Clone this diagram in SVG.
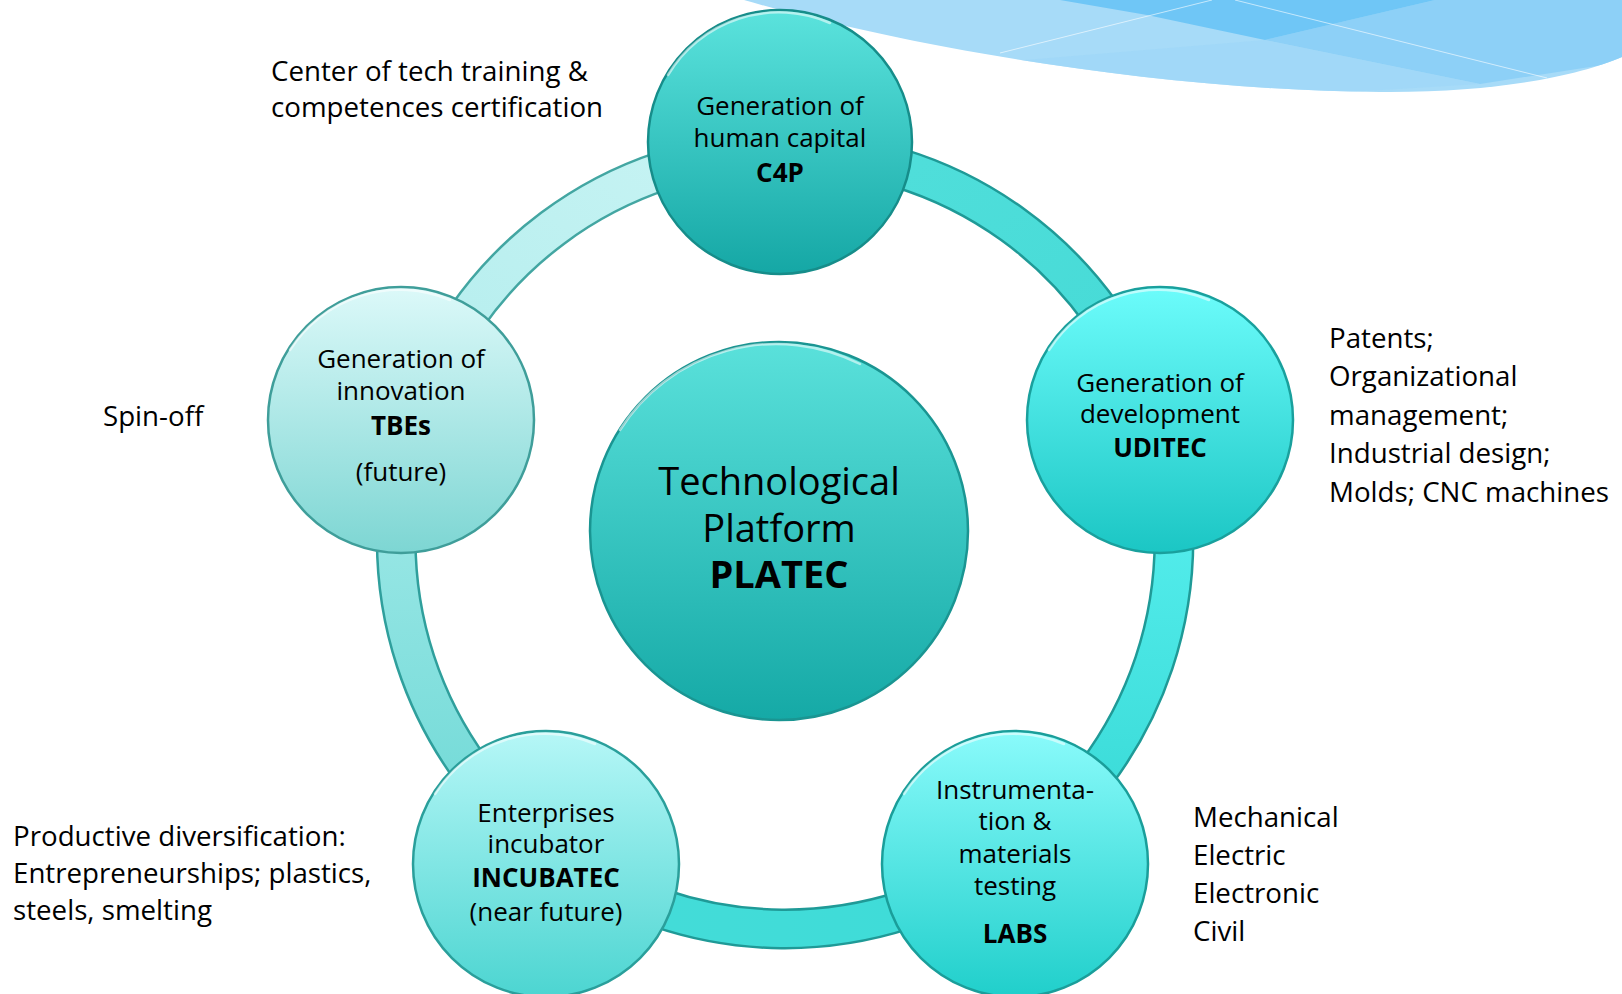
<svg xmlns="http://www.w3.org/2000/svg" width="1622" height="994" viewBox="0 0 1622 994">
<style>
  .t { font-family: "Open Sans", "Noto Sans", "Liberation Sans", sans-serif; fill: #000; }
  .lbl { font-size: 27.7px; }
  .nd { font-size: 26px; text-anchor: middle; }
  .b { font-weight: bold; }
  .big { font-size: 38px; text-anchor: middle; }
  .rim { stroke-width: 2.5; }
  .hl { fill: none; stroke: #ffffff; stroke-opacity: 0.55; stroke-width: 2.5; stroke-linecap: round; }
  .segO { fill: none; stroke-width: 41; }
  .segI { fill: none; stroke-width: 36; }
</style>
<defs>
  <linearGradient id="gC4P" x1="0" y1="0" x2="0" y2="1"><stop offset="0" stop-color="#5be3dd"/><stop offset="1" stop-color="#15a7a5"/></linearGradient>
  <linearGradient id="gPLA" x1="0" y1="0" x2="0" y2="1"><stop offset="0" stop-color="#5ae1db"/><stop offset="1" stop-color="#15a9a6"/></linearGradient>
  <linearGradient id="gTBE" x1="0" y1="0" x2="0" y2="1"><stop offset="0" stop-color="#dcf9f9"/><stop offset="1" stop-color="#7dd6d3"/></linearGradient>
  <linearGradient id="gUDI" x1="0" y1="0" x2="0" y2="1"><stop offset="0" stop-color="#6cfcfb"/><stop offset="1" stop-color="#1bc6c4"/></linearGradient>
  <linearGradient id="gINC" x1="0" y1="0" x2="0" y2="1"><stop offset="0" stop-color="#b6f7f7"/><stop offset="1" stop-color="#4cd5d1"/></linearGradient>
  <linearGradient id="gLAB" x1="0" y1="0" x2="0" y2="1"><stop offset="0" stop-color="#8afbfb"/><stop offset="1" stop-color="#20cfcb"/></linearGradient>
  <linearGradient id="sTL" x1="0" y1="1" x2="1" y2="0"><stop offset="0" stop-color="#b2eded"/><stop offset="1" stop-color="#c9f4f4"/></linearGradient>
  <linearGradient id="sTR" x1="0" y1="0" x2="1" y2="1"><stop offset="0" stop-color="#52dfdb"/><stop offset="1" stop-color="#44dad6"/></linearGradient>
  <linearGradient id="sR" x1="0" y1="0" x2="0" y2="1"><stop offset="0" stop-color="#5cf3f3"/><stop offset="1" stop-color="#36d8d4"/></linearGradient>
  <linearGradient id="sB" x1="0" y1="0" x2="1" y2="0"><stop offset="0" stop-color="#45dcd8"/><stop offset="1" stop-color="#3ddcd8"/></linearGradient>
  <linearGradient id="sL" x1="0" y1="0" x2="0" y2="1"><stop offset="0" stop-color="#a6ebea"/><stop offset="1" stop-color="#6cd8d5"/></linearGradient>
  <clipPath id="wave"><path d="M744,0 C900,45 1150,90 1380,92 C1500,93 1580,75 1622,57 L1622,0 Z"/></clipPath>
</defs>

<rect x="0" y="0" width="1622" height="994" fill="#ffffff"/>

<g id="decoration">
  <path d="M744,0 C900,45 1150,90 1380,92 C1500,93 1580,75 1622,57 L1622,0 Z" fill="#a7dbf8"/>
  <g clip-path="url(#wave)">
    <polygon points="1265,40 1435,0 1622,0 1622,62 1480,84" fill="#8dd0f7"/>
    <polygon points="1060,0 1147,15 1265,40 1435,0" fill="#6fc6f6"/>
    <polygon points="1000,62 1265,40 1480,84 1300,95" fill="#9ed7f8" opacity="0.7"/>
    <line x1="1000" y1="53" x2="1212" y2="0" stroke="#ffffff" stroke-opacity="0.6" stroke-width="1"/>
    <line x1="1235" y1="0" x2="1547" y2="78" stroke="#ffffff" stroke-opacity="0.6" stroke-width="1"/>
  </g>
</g>

<g id="connectors">
  <path class="segO" stroke="#43a6a2" d="M413.9,424.3 A389,389 0 0 1 780,151"/>
  <path class="segI" stroke="url(#sTL)" d="M413.9,424.3 A389,389 0 0 1 780,151"/>
  <path class="segO" stroke="#1f9a97" d="M780,151 A389,389 0 0 1 1155.6,421.7"/>
  <path class="segI" stroke="url(#sTR)" d="M780,151 A389,389 0 0 1 1155.6,421.7"/>
  <path class="segO" stroke="#1f9a97" d="M1155.6,421.7 A389,389 0 0 1 1010.2,857"/>
  <path class="segI" stroke="url(#sR)" d="M1155.6,421.7 A389,389 0 0 1 1010.2,857"/>
  <path class="segO" stroke="#1f9a97" d="M1010.2,857 A389,389 0 0 1 554,853"/>
  <path class="segI" stroke="url(#sB)" d="M1010.2,857 A389,389 0 0 1 554,853"/>
  <path class="segO" stroke="#2f9f9c" d="M554,853 A389,389 0 0 1 413.9,424.3"/>
  <path class="segI" stroke="url(#sL)" d="M554,853 A389,389 0 0 1 413.9,424.3"/>
</g>

<g id="node-platec">
  <circle class="rim" cx="779" cy="531" r="189" fill="url(#gPLA)" stroke="#1a9592"/>
  <path class="hl" d="M620,430 A185,185 0 0 1 860,364"/>
  <text class="t big" x="779" y="495">Technological</text>
  <text class="t big" x="779" y="542">Platform</text>
  <text class="t big b" x="779" y="588">PLATEC</text>
</g>

<g id="node-c4p">
  <circle class="rim" cx="780" cy="142" r="132" fill="url(#gC4P)" stroke="#168d8a"/>
  <path class="hl" d="M668,75 A129,129 0 0 1 830,23"/>
  <text class="t nd" x="780" y="115">Generation of</text>
  <text class="t nd" x="780" y="147">human capital</text>
  <text class="t nd b" x="780" y="182">C4P</text>
</g>

<g id="node-tbes">
  <circle class="rim" cx="401" cy="420" r="133" fill="url(#gTBE)" stroke="#3f9e9a"/>
  <path class="hl" d="M290,350 A130,130 0 0 1 450,300"/>
  <text class="t nd" x="401" y="368">Generation of</text>
  <text class="t nd" x="401" y="400">innovation</text>
  <text class="t nd b" x="401" y="435">TBEs</text>
  <text class="t nd" x="401" y="481">(future)</text>
</g>

<g id="node-uditec">
  <circle class="rim" cx="1160" cy="420" r="133" fill="url(#gUDI)" stroke="#19a09d"/>
  <path class="hl" d="M1049,350 A130,130 0 0 1 1209,300"/>
  <text class="t nd" x="1160" y="392">Generation of</text>
  <text class="t nd" x="1160" y="423">development</text>
  <text class="t nd b" x="1160" y="457">UDITEC</text>
</g>

<g id="node-incubatec">
  <circle class="rim" cx="546" cy="864" r="133" fill="url(#gINC)" stroke="#2a9f9b"/>
  <path class="hl" d="M435,794 A130,130 0 0 1 595,744"/>
  <text class="t nd" x="546" y="822">Enterprises</text>
  <text class="t nd" x="546" y="853">incubator</text>
  <text class="t nd b" x="546" y="887">INCUBATEC</text>
  <text class="t nd" x="546" y="921">(near future)</text>
</g>

<g id="node-labs">
  <circle class="rim" cx="1015" cy="864" r="133" fill="url(#gLAB)" stroke="#1a9e9a"/>
  <path class="hl" d="M904,794 A130,130 0 0 1 1064,744"/>
  <text class="t nd" x="1015" y="799">Instrumenta-</text>
  <text class="t nd" x="1015" y="830">tion &amp;</text>
  <text class="t nd" x="1015" y="863">materials</text>
  <text class="t nd" x="1015" y="895">testing</text>
  <text class="t nd b" x="1015" y="943">LABS</text>
</g>

<g id="labels">
  <text class="t lbl" x="271" y="81">Center of tech training &amp;</text>
  <text class="t lbl" x="271" y="117">competences certification</text>
  <text class="t lbl" x="103" y="426">Spin-off</text>
  <text class="t lbl" x="1329" y="348">Patents;</text>
  <text class="t lbl" x="1329" y="386">Organizational</text>
  <text class="t lbl" x="1329" y="425">management;</text>
  <text class="t lbl" x="1329" y="463">Industrial design;</text>
  <text class="t lbl" x="1329" y="502">Molds; CNC machines</text>
  <text class="t lbl" x="1193" y="827">Mechanical</text>
  <text class="t lbl" x="1193" y="865">Electric</text>
  <text class="t lbl" x="1193" y="903">Electronic</text>
  <text class="t lbl" x="1193" y="941">Civil</text>
  <text class="t lbl" x="13" y="846">Productive diversification:</text>
  <text class="t lbl" x="13" y="883">Entrepreneurships; plastics,</text>
  <text class="t lbl" x="13" y="920">steels, smelting</text>
</g>
</svg>
